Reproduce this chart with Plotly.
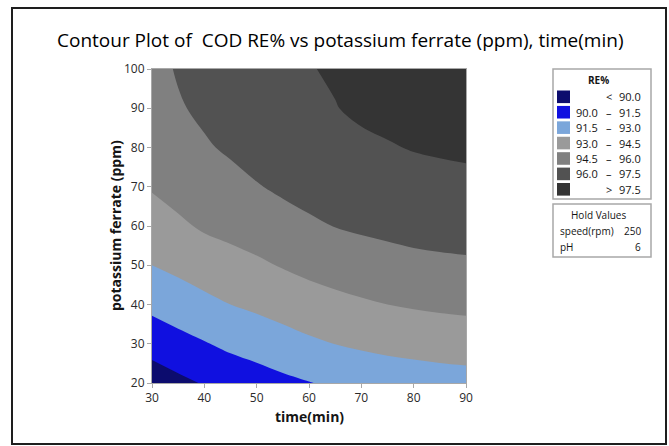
import plotly.graph_objects as go

# ---- data ----
time_min = [30, 35, 40, 45, 50, 55, 60, 65, 70, 75, 80, 85, 90]
ferrate_ppm = [20, 30, 40, 50, 60, 70, 80, 90, 100]
# one list per time value (bottom -> top along ferrate_ppm)
cod_re_by_time = [
    [89.17, 90.59, 91.87, 93.00, 93.82, 94.62, 95.14, 95.47, 95.61],
    [89.66, 91.03, 92.26, 93.34, 94.26, 95.01, 95.54, 95.89, 96.10],
    [90.10, 91.41, 92.64, 93.71, 94.68, 95.38, 95.87, 96.22, 96.40],
    [90.54, 91.81, 93.00, 94.01, 94.91, 95.61, 96.17, 96.55, 96.80],
    [90.85, 92.11, 93.27, 94.28, 95.17, 95.92, 96.53, 96.98, 97.27],
    [91.18, 92.44, 93.57, 94.59, 95.47, 96.23, 96.78, 97.15, 97.36],
    [91.45, 92.76, 93.88, 94.88, 95.80, 96.43, 96.98, 97.30, 97.44],
    [91.73, 93.02, 94.12, 95.11, 96.03, 96.60, 97.11, 97.46, 97.64],
    [91.96, 93.22, 94.32, 95.33, 96.20, 96.75, 97.26, 97.71, 97.91],
    [92.18, 93.36, 94.50, 95.51, 96.32, 96.90, 97.42, 97.83, 98.02],
    [92.29, 93.48, 94.64, 95.66, 96.43, 97.03, 97.56, 97.93, 98.08],
    [92.39, 93.59, 94.75, 95.75, 96.49, 97.10, 97.65, 98.00, 98.14],
    [92.45, 93.69, 94.83, 95.81, 96.54, 97.17, 97.72, 98.06, 98.20],
]
level_start, level_end, level_step = 90.0, 97.5, 1.5
band_colors = ["#0c0c6e", "#1010e0", "#7ba6da", "#9a9a9a", "#808080", "#525252", "#343434"]
legend_left = ["", "90.0", "91.5", "93.0", "94.5", "96.0", ""]
legend_mid = ["<", "\u2013", "\u2013", "\u2013", "\u2013", "\u2013", ">"]
legend_right = ["90.0", "91.5", "93.0", "94.5", "96.0", "97.5", "97.5"]
hold_names = ["speed(rpm)", "pH"]
hold_values = ["250", "6"]
x_ticks = [30, 40, 50, 60, 70, 80, 90]
y_ticks = [20, 30, 40, 50, 60, 70, 80, 90, 100]

# ---- layout geometry (pixels) ----
W, H = 669, 446
PL, PR, PT, PB = 152, 466, 69, 383
PW, PH = PR - PL, PB - PT


def fx(px):
    return (px - PL) / PW


def fy(py):
    return (PB - py) / PH


FONT = "Open Sans"
TXT = "#151515"
n = len(band_colors)
colorscale = [[i / (n - 1), c] for i, c in enumerate(band_colors)]

fig = go.Figure()
fig.add_trace(go.Contour(
    x=time_min, y=ferrate_ppm, z=cod_re_by_time, transpose=True,
    autocontour=False,
    contours=dict(start=level_start, end=level_end, size=level_step, coloring="fill"),
    colorscale=colorscale,
    line=dict(width=0, smoothing=1.0),
    showscale=False,
    hoverinfo="skip",
))

shapes = []
annotations = []

# outer frame
shapes.append(dict(type="rect", xref="paper", yref="paper",
                   x0=fx(12), x1=fx(666), y0=fy(444), y1=fy(8),
                   line=dict(color="#1e1e1e", width=2)))

# title
annotations.append(dict(xref="paper", yref="paper", x=fx(340), y=fy(40),
                        text="Contour Plot of\u00a0 COD RE% vs potassium ferrate (ppm), time(min)",
                        showarrow=False, xanchor="center", yanchor="middle",
                        font=dict(family=FONT, size=19, color="#000000")))
# axis titles
annotations.append(dict(xref="paper", yref="paper", x=fx(309), y=fy(416),
                        text="<b>time(min)</b>", showarrow=False,
                        xanchor="center", yanchor="middle",
                        font=dict(family=FONT, size=14, color=TXT)))
annotations.append(dict(xref="paper", yref="paper", x=fx(115), y=fy(226),
                        text="<b>potassium ferrate (ppm)</b>", showarrow=False,
                        textangle=-90, xanchor="center", yanchor="middle",
                        font=dict(family=FONT, size=14, color=TXT)))

# legend box
LX0, LX1 = 553, 651
shapes.append(dict(type="rect", xref="paper", yref="paper",
                   x0=fx(LX0), x1=fx(LX1), y0=fy(199), y1=fy(69),
                   line=dict(color="#a8a8a8", width=1.5)))
annotations.append(dict(xref="paper", yref="paper", x=fx(598), y=fy(80),
                        text="<b>RE%</b>", showarrow=False, xanchor="center", yanchor="middle",
                        font=dict(family=FONT, size=10, color=TXT)))
row0, dy = 96.8, 15.42
for i in range(n):
    yc = row0 + i * dy
    shapes.append(dict(type="rect", xref="paper", yref="paper",
                       x0=fx(557), x1=fx(570), y0=fy(yc + 6.3), y1=fy(yc - 6.3),
                       fillcolor=band_colors[i], line=dict(width=0)))
    if legend_left[i]:
        annotations.append(dict(xref="paper", yref="paper", x=fx(600), y=fy(yc),
                                text=legend_left[i], showarrow=False,
                                xanchor="right", yanchor="middle",
                                font=dict(family=FONT, size=11, color=TXT)))
    annotations.append(dict(xref="paper", yref="paper", x=fx(609), y=fy(yc),
                            text=legend_mid[i], showarrow=False,
                            xanchor="center", yanchor="middle",
                            font=dict(family=FONT, size=11, color=TXT)))
    annotations.append(dict(xref="paper", yref="paper", x=fx(643), y=fy(yc),
                            text=legend_right[i], showarrow=False,
                            xanchor="right", yanchor="middle",
                            font=dict(family=FONT, size=11, color=TXT)))

# hold values box
shapes.append(dict(type="rect", xref="paper", yref="paper",
                   x0=fx(LX0), x1=fx(LX1), y0=fy(257), y1=fy(204),
                   line=dict(color="#a8a8a8", width=1.5)))
annotations.append(dict(xref="paper", yref="paper", x=fx(598), y=fy(215.5),
                        text="Hold Values", showarrow=False, xanchor="center", yanchor="middle",
                        font=dict(family=FONT, size=10, color=TXT)))
for i, (nm, vl) in enumerate(zip(hold_names, hold_values)):
    yc = 231.5 + i * 15.8
    annotations.append(dict(xref="paper", yref="paper", x=fx(558), y=fy(yc),
                            text=nm, showarrow=False, xanchor="left", yanchor="middle",
                            font=dict(family=FONT, size=10, color=TXT)))
    annotations.append(dict(xref="paper", yref="paper", x=fx(643), y=fy(yc),
                            text=vl, showarrow=False, xanchor="right", yanchor="middle",
                            font=dict(family=FONT, size=10, color=TXT)))

axis_common = dict(showgrid=False, zeroline=False, showline=True, mirror=True,
                   linecolor="#a8a8a8", linewidth=1, ticks="outside", ticklen=4,
                   tickcolor="#a8a8a8", tickfont=dict(family=FONT, size=12, color="#2a2a2a"))

fig.update_layout(
    width=W, height=H,
    margin=dict(l=PL, r=W - PR, t=PT, b=H - PB, pad=0),
    paper_bgcolor="white", plot_bgcolor="white",
    xaxis=dict(range=[30, 90], tickvals=x_ticks, **axis_common),
    yaxis=dict(range=[20, 100], tickvals=y_ticks, **axis_common),
    shapes=shapes, annotations=annotations,
    showlegend=False,
)

fig.write_html(
    "out.html",
    config={"displayModeBar": False},
    post_script="document.body.style.margin='0';document.body.style.overflow='hidden';",
)
